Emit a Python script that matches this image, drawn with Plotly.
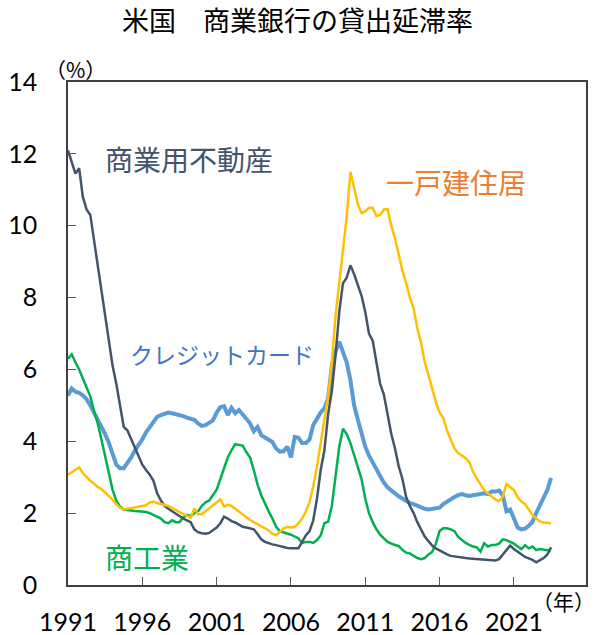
import plotly.graph_objects as go

years = list(range(1991, 2024))
quarters = [f"{y}Q{q}" for y in years for q in (1, 2, 3, 4)][:131]

tick_years = ["1991", "1996", "2001", "2006", "2011", "2016", "2021"]
y_ticks = [0, 2, 4, 6, 8, 10, 12, 14]

cre = [
    12.1, 11.8, 11.45, 11.6,
    10.8, 10.45, 10.3, 9.6,
    8.9, 8.3, 7.5, 6.8,
    6.1, 5.6, 5.05, 4.4,
    4.3, 4.05, 3.85, 3.55,
    3.35, 3.2, 3.07, 2.9,
    2.55, 2.35, 2.2, 2.12,
    2.05, 1.97, 1.9, 1.85,
    1.8, 1.75, 1.55, 1.47,
    1.44, 1.43, 1.45, 1.52,
    1.6, 1.72, 1.9, 1.85,
    1.78, 1.74, 1.67, 1.62,
    1.6, 1.58, 1.55, 1.42,
    1.27, 1.2, 1.16, 1.13,
    1.11, 1.08, 1.06, 1.03,
    1.02, 1.02, 1.02, 1.2,
    1.38, 1.5, 1.8, 2.4,
    3.2, 3.75, 4.75, 5.4,
    6.4, 7.6, 8.4, 8.55,
    8.9, 8.65, 8.35, 8.05,
    7.6, 7.0, 6.8, 6.2,
    5.6, 5.3, 4.7, 4.2,
    3.8, 3.3, 2.95, 2.45,
    2.2, 2.0, 1.75, 1.55,
    1.35, 1.22, 1.1, 1.02,
    0.96, 0.9, 0.85, 0.81,
    0.79, 0.77, 0.76, 0.75,
    0.74, 0.73, 0.72, 0.71,
    0.7, 0.69, 0.68, 0.68,
    0.72, 0.85, 0.98, 1.1,
    1.0, 0.92, 0.85, 0.78,
    0.74, 0.7, 0.63, 0.7,
    0.75, 0.85, 1.05,
]

residential = [
    3.07, 3.13, 3.2, 3.27,
    3.12, 3.0, 2.9, 2.82,
    2.73, 2.67, 2.57, 2.48,
    2.38, 2.25, 2.15, 2.1,
    2.12, 2.16, 2.18, 2.2,
    2.2, 2.22, 2.3, 2.32,
    2.28, 2.26, 2.23, 2.2,
    2.15, 2.08, 2.03, 1.98,
    1.92, 1.87, 2.13, 1.97,
    1.97, 2.05, 2.12, 2.2,
    2.28, 2.38, 2.18, 2.23,
    2.2, 2.12, 2.06, 1.97,
    1.9, 1.81, 1.75, 1.7,
    1.65, 1.58, 1.52, 1.42,
    1.39, 1.47, 1.57, 1.62,
    1.6, 1.62, 1.72, 1.85,
    2.05, 2.3, 2.75, 3.3,
    3.95, 4.5, 5.25, 6.2,
    7.5, 8.4, 9.3, 10.25,
    11.5, 11.05, 10.6, 10.35,
    10.4, 10.5, 10.5, 10.27,
    10.3, 10.45, 10.46, 10.0,
    9.65, 9.2, 8.75, 8.4,
    8.0, 7.7, 7.15, 6.75,
    6.2, 5.85, 5.45, 5.1,
    4.8, 4.65, 4.3, 4.05,
    3.8, 3.67, 3.6, 3.53,
    3.42, 3.15, 2.97, 2.8,
    2.64, 2.55, 2.46, 2.38,
    2.33, 2.46, 2.81, 2.72,
    2.64, 2.45, 2.32, 2.25,
    2.1, 1.95, 1.85, 1.77,
    1.74, 1.73, 1.72,
]

credit_card = [
    5.27, 5.47, 5.38, 5.35,
    5.28, 5.17, 5.0, 4.8,
    4.6, 4.42, 4.2, 3.95,
    3.62, 3.35, 3.25, 3.25,
    3.4, 3.55, 3.75, 3.9,
    4.05, 4.25, 4.4, 4.55,
    4.68, 4.73, 4.78, 4.8,
    4.78, 4.76, 4.73, 4.7,
    4.66, 4.62, 4.6, 4.5,
    4.43, 4.45, 4.52, 4.58,
    4.8, 4.95, 4.98, 4.73,
    4.93, 4.78, 4.87, 4.75,
    4.65, 4.5, 4.28, 4.4,
    4.17, 4.1, 4.05, 3.98,
    3.8, 3.71, 3.72, 3.85,
    3.55, 4.12, 4.1, 3.95,
    3.95, 4.05, 4.45, 4.65,
    4.8, 4.92, 5.2, 6.1,
    6.5, 6.77, 6.5, 6.2,
    5.7, 5.0, 4.6, 4.2,
    3.85, 3.6, 3.4, 3.25,
    3.0, 2.85, 2.72, 2.62,
    2.55, 2.47, 2.4, 2.33,
    2.28, 2.25, 2.2, 2.15,
    2.12, 2.1, 2.12, 2.14,
    2.15, 2.25, 2.32, 2.4,
    2.45, 2.5, 2.53, 2.5,
    2.48, 2.5, 2.52, 2.55,
    2.55, 2.53, 2.6, 2.6,
    2.63, 2.5, 2.05, 2.1,
    1.85, 1.6, 1.55, 1.57,
    1.65, 1.76, 2.0, 2.2,
    2.4, 2.65, 2.98,
]

commercial_industrial = [
    6.3, 6.42, 6.2, 6.0,
    5.75, 5.5, 5.25, 4.85,
    4.5, 4.05, 3.55, 3.1,
    2.65, 2.35, 2.18, 2.1,
    2.08, 2.07, 2.06, 2.05,
    2.05, 2.03, 2.0, 1.95,
    1.9, 1.85, 1.75, 1.72,
    1.8, 1.75, 1.75, 1.88,
    1.95, 1.92, 2.0, 2.05,
    2.2, 2.3, 2.35, 2.5,
    2.65, 2.95, 3.25, 3.55,
    3.75, 3.92, 3.9, 3.88,
    3.7, 3.55, 3.2, 2.8,
    2.5, 2.25, 2.05, 1.85,
    1.62, 1.5, 1.47, 1.43,
    1.4, 1.35, 1.3, 1.17,
    1.2, 1.2, 1.17, 1.25,
    1.38, 1.72, 1.76, 2.2,
    2.95, 3.85, 4.35, 4.2,
    3.95, 3.6, 3.25, 2.95,
    2.4, 2.0, 1.75, 1.55,
    1.4, 1.3, 1.2, 1.15,
    1.12, 1.08, 0.98, 0.9,
    0.88, 0.82, 0.75, 0.72,
    0.75, 0.85, 0.92, 1.15,
    1.5, 1.58, 1.58, 1.55,
    1.5, 1.34, 1.25, 1.17,
    1.12, 1.07, 1.05, 0.93,
    1.16, 1.07, 1.11, 1.11,
    1.15, 1.27, 1.25, 1.21,
    1.15, 1.07, 1.0, 1.11,
    1.02, 1.07, 0.97, 1.0,
    0.98, 0.97, 0.97,
]

series_names = ["クレジットカード", "商工業", "商業用不動産", "一戸建住居"]
line_colors = ["#5B9BD5", "#00B050", "#44546A", "#FFC000"]
line_widths = [4, 2.5, 2.5, 2.5]
series_values = [credit_card, commercial_industrial, cre, residential]

JP = "Noto Sans CJK JP"
NUM = "Lato"

fig = go.Figure()
for name, vals, col, w in zip(series_names, series_values, line_colors, line_widths):
    fig.add_trace(go.Scatter(
        x=quarters, y=vals, mode="lines", name=name,
        line=dict(color=col, width=w), showlegend=False,
    ))

# series labels (category index, value)
labels = [
    ("商業用不動産", 32.6, 11.85, "#44546A", 28),
    ("一戸建住居", 104.5, 11.22, "#ED7D31", 28),
    ("クレジットカード", 41.5, 6.42, "#4472C4", 23),
    ("商工業", 21.2, 0.78, "#00B050", 28),
]
for text, xi, yv, col, sz in labels:
    fig.add_annotation(x=xi, y=yv, xref="x", yref="y", text=text, showarrow=False,
                       font=dict(family=JP, size=sz, color=col),
                       xanchor="center", yanchor="middle")

W, H = 595, 635
L, R, T, B = 68, 9, 82, 50

def px_to_paper(px, py):
    return (px - L) / (W - L - R), 1 - (py - T) / (H - T - B)

for text, (px, py), sz in [("（%）", (75, 69), 21), ("（年）", (563, 601), 21)]:
    xp, yp = px_to_paper(px, py)
    fig.add_annotation(x=xp, y=yp, xref="paper", yref="paper", text=text, showarrow=False,
                       font=dict(family=JP, size=sz, color="#000000"),
                       xanchor="center", yanchor="middle")

fig.update_layout(
    width=W, height=H,
    margin=dict(l=L, r=R, t=T, b=B, autoexpand=False),
    paper_bgcolor="white", plot_bgcolor="white",
    title=dict(text="米国　商業銀行の貸出延滞率", x=0.5, xanchor="center",
               y=1 - 22 / H, yanchor="middle",
               font=dict(family=JP, size=27, color="#000000")),
    xaxis=dict(
        type="category", range=[0, 139.4], automargin=False,
        tickmode="array", tickvals=[f"{y}Q1" for y in tick_years], ticktext=tick_years,
        ticks="inside", ticklen=8, tickcolor="#595959", tickwidth=1,
        showline=True, linecolor="#404040", linewidth=1.5, mirror=True,
        showgrid=False, zeroline=False,
        tickfont=dict(family=NUM, size=25, color="#000000"),
        ticklabelstandoff=14,
    ),
    yaxis=dict(
        range=[0, 14], tickvals=y_ticks, automargin=False,
        ticks="inside", ticklen=8, tickcolor="#595959", tickwidth=1,
        showline=True, linecolor="#404040", linewidth=1.5, mirror=True,
        showgrid=False, zeroline=False,
        tickfont=dict(family=NUM, size=25, color="#000000"),
        ticklabelstandoff=24,
    ),
)

fig.write_html("out.html", config={"displayModeBar": False},
               post_script="document.body.style.margin='0px';document.body.style.overflow='hidden';")
